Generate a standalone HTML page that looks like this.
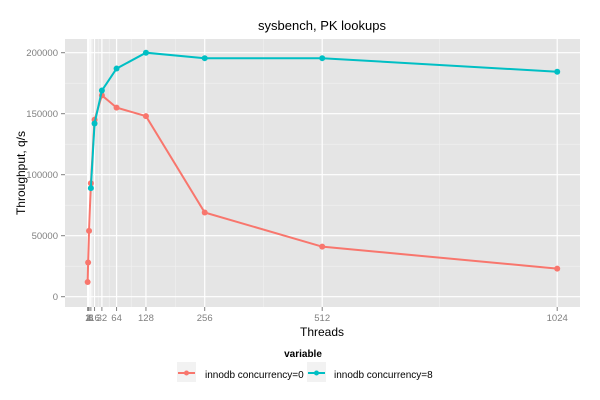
<!DOCTYPE html>
<html><head><style>body{margin:0;background:#fff}svg{display:block}</style></head>
<body>
<svg id="s" width="600" height="400" xmlns="http://www.w3.org/2000/svg" font-family="Liberation Sans, sans-serif">
<rect x="65" y="39" width="515" height="268" fill="#e5e5e5"/>
<g id="grid"></g>
<g id="data"></g>
<text x="322" y="30" font-size="13" text-anchor="middle" fill="#000">sysbench, PK lookups</text>
<text x="322" y="336" font-size="12" text-anchor="middle" fill="#000">Threads</text>
<text transform="translate(25,173) rotate(-90)" font-size="12" text-anchor="middle" fill="#000">Throughput, q/s</text>
<text x="303" y="357" font-size="10" font-weight="bold" text-anchor="middle" fill="#000">variable</text>
<rect x="177" y="362" width="19" height="20" fill="#f2f2f2"/>
<line x1="178" y1="373" x2="195" y2="373" stroke="#f8766d" stroke-width="2"/>
<circle cx="186.5" cy="373" r="2.5" fill="#f8766d"/>
<text x="205" y="378" font-size="10" fill="#000">innodb concurrency=0</text>
<rect x="307" y="362" width="19" height="20" fill="#f2f2f2"/>
<line x1="308" y1="373" x2="325" y2="373" stroke="#00bfc4" stroke-width="2"/>
<circle cx="316.5" cy="373" r="2.5" fill="#00bfc4"/>
<text x="334" y="378" font-size="10" fill="#000">innodb concurrency=8</text>
</svg>
<script>
var NS="http://www.w3.org/2000/svg";
function X(v){return 87.2+v*0.459;}
function Y(v){return 296.7-v*(244/200000);}
function el(p,t,a,txt){var e=document.createElementNS(NS,t);for(var k in a)e.setAttribute(k,a[k]);if(txt!==undefined)e.textContent=txt;document.getElementById(p).appendChild(e);return e;}
var g='grid';
// y minor
[25000,75000,125000,175000].forEach(function(v){el(g,'line',{x1:65,x2:580,y1:Y(v),y2:Y(v),stroke:'#f2f2f2','stroke-width':0.6});});
var brk=[1,2,4,8,16,32,64,128,256,512,1024];
for(var i=0;i<brk.length-1;i++){var m=(brk[i]+brk[i+1])/2;el(g,'line',{x1:X(m),x2:X(m),y1:39,y2:307,stroke:'#f2f2f2','stroke-width':0.6});}
el(g,'line',{x1:X(1024+(1024-512)/2),x2:X(1024+256),y1:39,y2:307,stroke:'#f2f2f2','stroke-width':0});
[0,50000,100000,150000,200000].forEach(function(v){var y=Y(v);el(g,'line',{x1:65,x2:580,y1:y,y2:y,stroke:'#fff','stroke-width':1.2});
el(g,'line',{x1:61,x2:65,y1:y,y2:y,stroke:'#7f7f7f'});
el(g,'text',{x:58,y:y+3.5,'font-size':9.5,'text-anchor':'end',fill:'#7f7f7f'},String(v));});
brk.forEach(function(v){var x=X(v);el(g,'line',{x1:x,x2:x,y1:39,y2:307,stroke:'#fff','stroke-width':1.2});
el(g,'line',{x1:x,x2:x,y1:307,y2:311,stroke:'#7f7f7f'});
el(g,'text',{x:x,y:321,'font-size':9.5,'text-anchor':'middle',fill:'#7f7f7f'},String(v));});
var red=[[1,12000],[2,28000],[4,54000],[8,93000],[16,145000],[32,165000],[64,155000],[128,148000],[256,69000],[512,41000],[1024,23000]];
var teal=[[8,89000],[16,142000],[32,169000],[64,187000],[128,200000],[256,195500],[512,195500],[1024,184400]];
[[red,'#f8766d'],[teal,'#00bfc4']].forEach(function(s){
var pts=s[0].map(function(p){return X(p[0])+','+Y(p[1]);}).join(' ');
el('data','polyline',{points:pts,fill:'none',stroke:s[1],'stroke-width':2});
s[0].forEach(function(p){el('data','circle',{cx:X(p[0]),cy:Y(p[1]),r:3,fill:s[1]});});});
</script>
</body></html>
